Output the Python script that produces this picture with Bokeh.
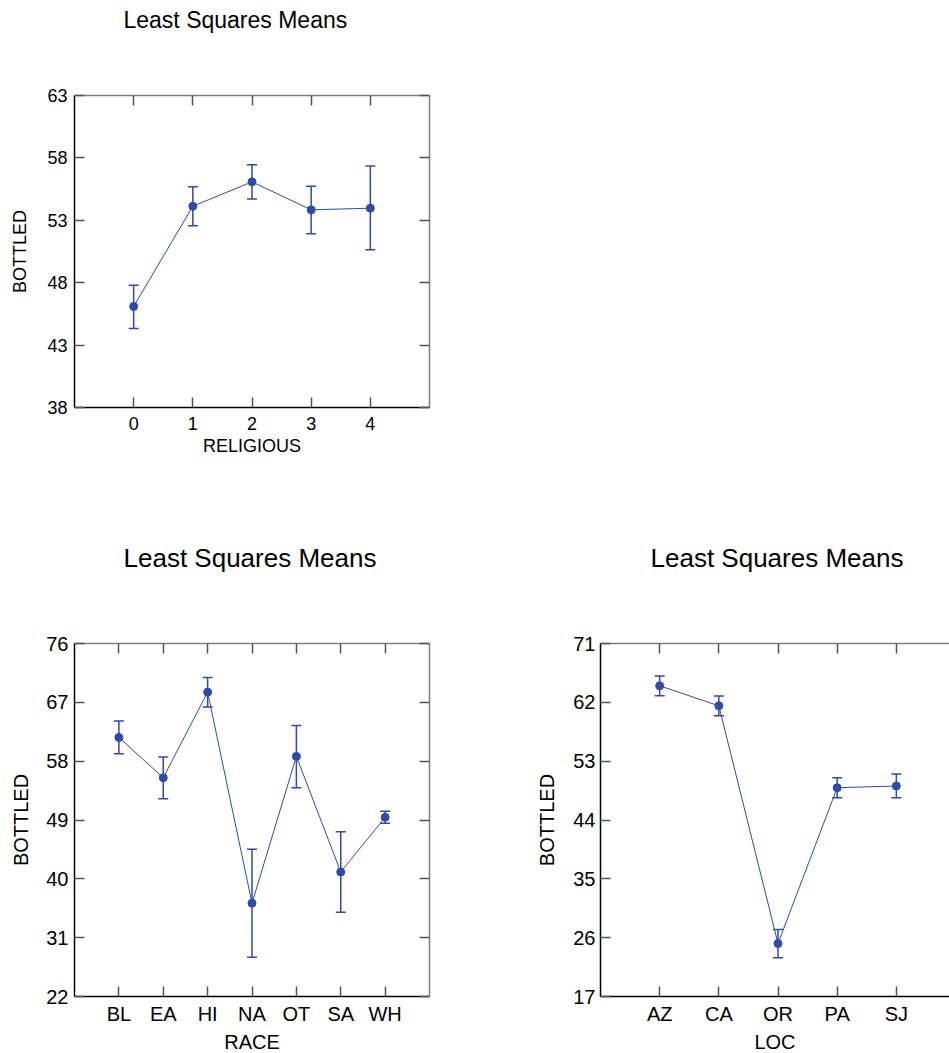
from bokeh.plotting import figure
from bokeh.models import ColumnDataSource, Whisker, TeeHead, LinearAxis, FixedTicker, Range1d
from bokeh.layouts import column, row
from bokeh.embed import file_html
from bokeh.resources import INLINE

# ---------------- data ----------------
rel_levels = ["0", "1", "2", "3", "4"]
rel_mean = [46.10, 54.13, 56.08, 53.84, 53.97]
rel_upper = [47.80, 55.68, 57.45, 55.73, 57.36]
rel_lower = [44.33, 52.56, 54.70, 51.92, 50.64]
rel_yticks = [38, 43, 48, 53, 58, 63]

race_levels = ["BL", "EA", "HI", "NA", "OT", "SA", "WH"]
race_mean = [61.63, 55.47, 68.56, 36.27, 58.73, 41.05, 49.41]
race_upper = [64.13, 58.63, 70.80, 44.52, 63.47, 47.22, 50.33]
race_lower = [59.14, 52.26, 66.27, 28.01, 53.94, 34.89, 48.49]
race_yticks = [22, 31, 40, 49, 58, 67, 76]

loc_levels = ["AZ", "CA", "OR", "PA", "SJ"]
loc_mean = [64.53, 61.47, 25.10, 48.94, 49.20]
loc_upper = [66.01, 62.95, 27.24, 50.47, 51.03]
loc_lower = [63.00, 59.95, 22.91, 47.41, 47.41]
loc_yticks = [17, 26, 35, 44, 53, 62, 71]

title_text = "Least Squares Means"
y_label = "BOTTLED"

# ---------------- style ----------------
FONT = "Liberation Sans"
BLUE = "#2f4ba6"
TICK = "#555555"
FULL_W = 355


def style_axis(ax, line_color, fs):
    ax.major_tick_in = 10
    ax.major_tick_out = 0
    ax.minor_tick_in = 0
    ax.minor_tick_out = 0
    ax.major_tick_line_color = TICK
    ax.major_tick_line_width = 1.5
    ax.axis_line_color = line_color
    ax.axis_line_width = 1.5
    ax.major_label_text_font = FONT
    ax.major_label_text_font_size = f"{fs}px"
    ax.major_label_text_color = "black"
    ax.axis_label_text_font = FONT
    ax.axis_label_text_font_size = f"{fs}px"
    ax.axis_label_text_font_style = "normal"
    ax.axis_label_text_color = "black"


def panel(levels, mean, upper, lower, yticks, xlabel, *, frame_w, frame_h, mb,
          fs, tfs, title_offset, title_pad, ylab_standoff, xlab_standoff,
          ytick_standoff, xtick_standoff, show_right=True):
    n = len(levels)
    xs = list(range(n))
    x_end = -1 + (n + 1) * frame_w / FULL_W
    p = figure(frame_width=frame_w, frame_height=frame_h,
               x_range=Range1d(-1, x_end), y_range=Range1d(yticks[0], yticks[-1]),
               toolbar_location=None, output_backend="svg",
               min_border_left=mb[0], min_border_right=mb[1],
               min_border_top=mb[2], min_border_bottom=mb[3],
               x_axis_location=None, y_axis_location=None,
               outline_line_color=None, title=title_text,
               background_fill_color="white", border_fill_color="white")
    p.grid.visible = False

    p.title.text_font = FONT
    p.title.text_font_size = f"{tfs}px"
    p.title.text_font_style = "normal"
    p.title.text_color = "black"
    p.title.align = "left"
    p.title.vertical_align = "top"
    p.title.offset = title_offset
    p.title.standoff = 0

    xt = FixedTicker(ticks=xs)
    yt = FixedTicker(ticks=yticks)

    bottom = LinearAxis(ticker=xt, major_label_overrides={i: l for i, l in enumerate(levels)},
                        axis_label=xlabel)
    style_axis(bottom, "black", fs)
    bottom.major_label_standoff = xtick_standoff
    bottom.axis_label_standoff = xlab_standoff
    p.add_layout(bottom, "below")

    left = LinearAxis(ticker=yt, axis_label=y_label)
    style_axis(left, "black", fs)
    left.major_label_standoff = ytick_standoff
    left.axis_label_standoff = ylab_standoff
    p.add_layout(left, "left")

    # top border: inward ticks only; a blank, 1px axis label spaces the title upward
    top = LinearAxis(ticker=FixedTicker(ticks=xs), major_label_overrides={i: "" for i in xs},
                     axis_label=" ")
    style_axis(top, "#808080", fs)
    top.major_label_text_font_size = "0px"
    top.major_label_standoff = 0
    top.axis_label_text_font_size = "1px"
    top.axis_label_standoff = title_pad
    p.add_layout(top, "above")

    if show_right:
        right = LinearAxis(ticker=FixedTicker(ticks=yticks), major_label_overrides={t: "" for t in yticks})
        style_axis(right, "#808080", fs)
        right.major_label_text_font_size = "0px"
        right.major_label_standoff = 0
        p.add_layout(right, "right")

    src = ColumnDataSource(dict(x=xs, mean=mean, upper=upper, lower=lower))
    p.add_layout(Whisker(base="x", upper="upper", lower="lower", source=src,
                         line_color=BLUE, line_width=1.5,
                         upper_head=TeeHead(size=10, line_color=BLUE, line_width=1.5),
                         lower_head=TeeHead(size=10, line_color=BLUE, line_width=1.5)))
    p.line("x", "mean", source=src, line_color=BLUE, line_width=1)
    p.scatter("x", "mean", source=src, size=8, fill_color=BLUE, line_color=BLUE)
    return p


p_top = panel(rel_levels, rel_mean, rel_upper, rel_lower, rel_yticks, "RELIGIOUS",
              frame_w=355, frame_h=312, mb=(74, 20, 95, 66), fs=18, tfs=23,
              title_offset=49, title_pad=57, ylab_standoff=14, xlab_standoff=3,
              ytick_standoff=7, xtick_standoff=9)

p_race = panel(race_levels, race_mean, race_upper, race_lower, race_yticks, "RACE",
               frame_w=355, frame_h=353, mb=(74, 51, 170, 55), fs=20, tfs=26,
               title_offset=49, title_pad=65, ylab_standoff=11, xlab_standoff=3,
               ytick_standoff=6, xtick_standoff=6)

p_loc = panel(loc_levels, loc_mean, loc_upper, loc_lower, loc_yticks, "LOC",
              frame_w=349, frame_h=353, mb=(120, 0, 170, 55), fs=20, tfs=26,
              title_offset=50, title_pad=65, ylab_standoff=12, xlab_standoff=3,
              ytick_standoff=5, xtick_standoff=6, show_right=False)

layout = column(p_top, row(p_race, p_loc, spacing=0), spacing=0)

open("out.html", "w").write(file_html(layout, INLINE, "Least Squares Means"))
